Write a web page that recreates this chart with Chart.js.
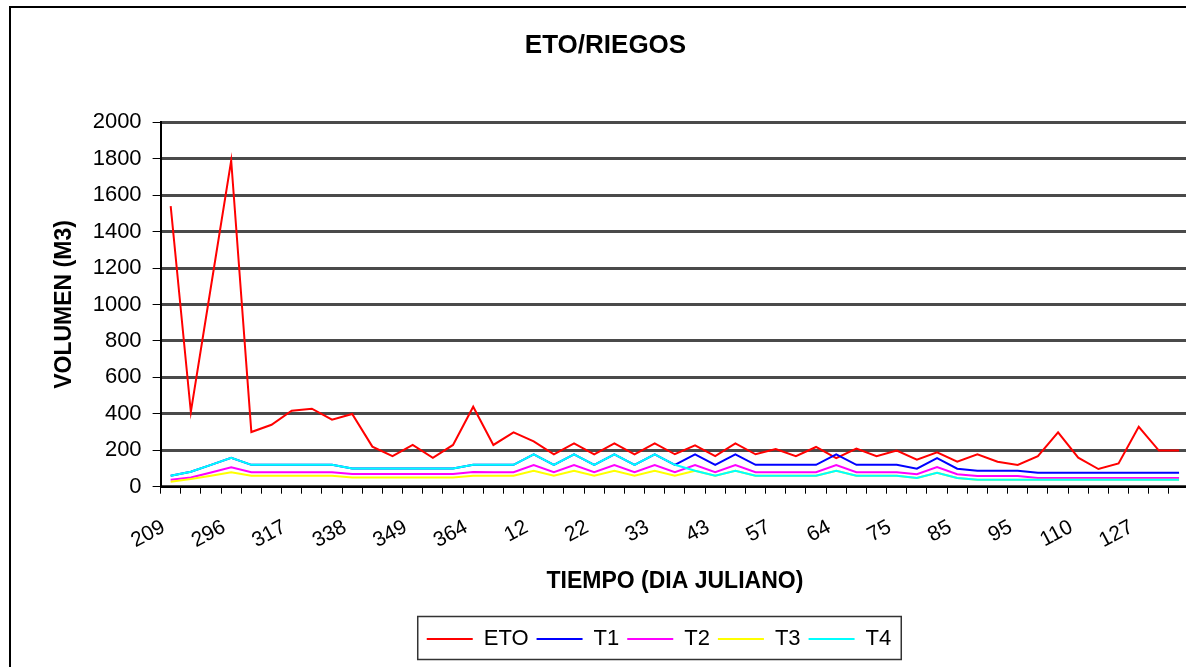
<!DOCTYPE html>
<html><head><meta charset="utf-8">
<script src="https://cdn.jsdelivr.net/npm/chart.js@4.4.1/dist/chart.umd.min.js"></script>
<style>
html,body{margin:0;padding:0;overflow:hidden;background:#fff;}
#wrap{position:absolute;left:0;top:0;width:1212px;height:667px;}
</style></head><body>
<div id="wrap"><canvas id="c" width="1212" height="667"></canvas></div>
<script>
// Tick labels shown (every 3rd category)
const tickLabels = ['209','296','317','338','349','364','12','22','33','43','57','64','75','85','95','110','127'];
const labelEvery = 3;
const nCategories = 51;

const eto = [1540,410,1100,1790,300,340,417,428,368,399,
             220,168,229,159,229,439,229,298,249,178,
             238,178,238,178,238,178,227,168,238,178,
             207,168,218,157,209,167,198,148,189,137,
             178,137,119,168,298,159,97,128,329,198,198];
const t1 = [60,82,120,159,120,120,120,120,120,100,
            100,100,100,100,100,120,120,120,178,120,
            178,120,178,120,178,120,178,120,178,120,
            120,120,120,178,120,120,120,99,157,99,
            88,88,88,77,77,77,77,77,77,77,77];
const t2 = [38,50,78,106,79,79,79,79,79,70,
            70,70,70,70,70,80,79,79,119,79,
            119,79,119,79,119,79,119,79,119,79,
            79,79,79,119,79,79,79,68,108,68,
            59,59,59,48,48,48,48,48,48,48,48];
const t3 = [27,42,60,79,60,60,60,60,60,50,
            50,50,50,50,50,60,60,60,88,60,
            88,60,88,60,88,60,88,60,88,60,
            60,60,60,88,60,60,60,48,77,48,
            38,38,38,38,38,38,38,38,38,38,38];
const t4 = [60,82,120,159,120,120,120,120,120,100,
            100,100,100,100,100,120,120,120,178,120,
            178,120,178,120,178,120,88,60,88,60,
            60,60,60,88,60,60,60,48,77,48,
            38,38,38,38,38,38,38,38,38,38,38];

const seriesNames = ['ETO','T1','T2','T3','T4'];
const seriesColors = ['#FF0000','#0000FF','#FF00FF','#FFFF00','#00FFFF'];
const seriesData = [eto,t1,t2,t3,t4];

const categories = [];
for (let i = 0; i < nCategories; i++) {
  categories.push(i % labelEvery === 0 && tickLabels[i / labelEvery] !== undefined ? tickLabels[i / labelEvery] : '');
}

Chart.defaults.font.family = "'Liberation Sans', Arial, sans-serif";
Chart.defaults.color = '#000';

const framePlugin = {
  id: 'frame',
  beforeDraw(chart) {
    const ctx = chart.ctx;
    ctx.save();
    ctx.fillStyle = '#fff';
    ctx.fillRect(0, 0, chart.width, chart.height);
    ctx.strokeStyle = '#000';
    ctx.lineWidth = 2;
    ctx.strokeRect(10, 7, chart.width + 100, chart.height + 100);
    ctx.restore();
  }
};

const legendShift = {
  id: 'legendShift',
  afterLayout(chart) {
    const lg = chart.legend;
    if (!lg) return;
    const c = (lg.left + lg.right) / 2;
    const dx = 659 - c;
    lg.left += dx; lg.right += dx;
  },
  afterDraw(chart) {
    const boxes = chart.legend && chart.legend.legendHitBoxes;
    if (!boxes || !boxes.length) return;
    let minX = Infinity, maxX = -Infinity, top = Infinity, bot = -Infinity;
    boxes.forEach(b => {
      minX = Math.min(minX, b.left); maxX = Math.max(maxX, b.left + b.width);
      top = Math.min(top, b.top); bot = Math.max(bot, b.top + b.height);
    });
    const cy = (top + bot) / 2;
    const ctx = chart.ctx;
    ctx.save();
    ctx.strokeStyle = '#333';
    ctx.lineWidth = 1.5;
    ctx.strokeRect(minX - 9, cy - 22.5, (maxX - minX) + 19, 43);
    ctx.restore();
  }
};

new Chart(document.getElementById('c'), {
  type: 'line',
  data: {
    labels: categories,
    datasets: seriesData.map((d, i) => ({
      label: seriesNames[i],
      data: d,
      borderColor: seriesColors[i],
      backgroundColor: seriesColors[i],
      borderWidth: 2,
      pointRadius: 0,
      tension: 0,
      fill: false,
      order: seriesData.length - 1 - i
    }))
  },
  options: {
    responsive: false,
    animation: false,
    layout: { padding: { left: 9, right: 10, top: 0, bottom: 7 } },
    plugins: {
      tooltip: { enabled: false },
      title: {
        display: true,
        text: 'ETO/RIEGOS',
        color: '#000',
        font: { size: 26, weight: 'bold' },
        padding: { top: 30, bottom: 61 }
      },
      legend: {
        display: true,
        position: 'bottom',
        labels: {
          boxWidth: 46,
          boxHeight: 2,
          padding: 8,
          color: '#000',
          font: { size: 22 },
          sort: (a, b) => a.datasetIndex - b.datasetIndex,
          generateLabels(chart) {
            return chart.data.datasets.map((ds, i) => ({
              text: ds.label,
              fillStyle: ds.borderColor,
              strokeStyle: ds.borderColor,
              lineWidth: 0,
              hidden: false,
              datasetIndex: i
            }));
          }
        }
      }
    },
    scales: {
      x: {
        offset: true,
        grid: { offset: true, drawOnChartArea: false, drawTicks: true, tickLength: 7, tickColor: '#000', tickWidth: 1 },
        border: { color: '#000', width: 2 },
        ticks: { autoSkip: false, maxRotation: 28, minRotation: 28, padding: 21, labelOffset: -7, color: '#000', font: { size: 21 } },
        title: { display: true, text: 'TIEMPO (DIA JULIANO)', color: '#000', font: { size: 23, weight: 'bold' }, padding: { top: -7, bottom: 25 } }
      },
      y: {
        min: 0, max: 2000,
        afterFit(scale) { scale.width = 151.6; },
        ticks: { stepSize: 200, padding: 11, color: '#000', font: { size: 22 }, callback: (v) => String(v) },
        grid: { color: '#4a4a4a', lineWidth: 3, drawTicks: true, tickLength: 8, tickColor: '#000', tickWidth: 1 },
        border: { color: '#000', width: 2 },
        title: { display: true, text: 'VOLUMEN (M3)', color: '#000', font: { size: 23, weight: 'bold' }, padding: { top: 42, bottom: 16 } }
      }
    }
  },
  plugins: [framePlugin, legendShift]
});
</script>
</body></html>
